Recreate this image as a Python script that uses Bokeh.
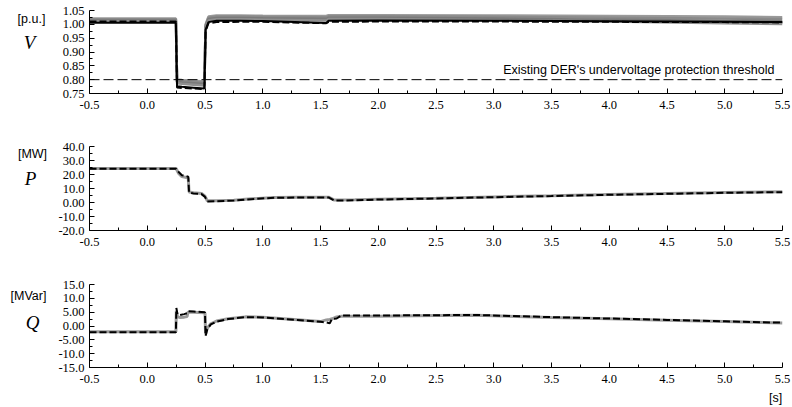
from bokeh.plotting import figure
from bokeh.layouts import column, row
from bokeh.models import FixedTicker, PrintfTickFormatter, CustomJSTickFormatter, Label, Range1d, Span
from bokeh.embed import file_html
from bokeh.resources import INLINE

# ---------------- data ----------------
X_TICKS = [-0.5, 0.0, 0.5, 1.0, 1.5, 2.0, 2.5, 3.0, 3.5, 4.0, 4.5, 5.0, 5.5]
X_MINOR = [-0.25, 0.25, 0.75, 1.25, 1.75, 2.25, 2.75, 3.25, 3.75, 4.25, 4.75, 5.25]

V_TICKS = [0.75, 0.80, 0.85, 0.90, 0.95, 1.00, 1.05]
V_MINOR = [0.775, 0.825, 0.875, 0.925, 0.975, 1.025]
P_TICKS = [-20.0, -10.0, 0.0, 10.0, 20.0, 30.0, 40.0]
P_MINOR = [-15.0, -5.0, 5.0, 15.0, 25.0, 35.0]
Q_TICKS = [-15.0, -10.0, -5.0, 0.0, 5.0, 10.0, 15.0]
Q_MINOR = [-12.5, -7.5, -2.5, 2.5, 7.5, 12.5]

V_THRESHOLD = 0.80

t_V = [-0.5, 0.248, 0.258, 0.30, 0.40, 0.495, 0.505, 0.53, 0.60, 0.80, 1.00, 1.55, 1.57, 2.00, 3.00, 4.00, 5.00, 5.50]
V_gray1 = [1.021, 1.021, 0.801, 0.799, 0.796, 0.793, 1.000, 1.028, 1.032, 1.032, 1.031, 1.030, 1.033, 1.033, 1.032, 1.030, 1.028, 1.026]
V_gray2 = [1.018, 1.018, 0.797, 0.795, 0.792, 0.789, 0.995, 1.024, 1.028, 1.028, 1.027, 1.026, 1.029, 1.029, 1.027, 1.024, 1.021, 1.019]
V_gray3 = [1.014, 1.014, 0.792, 0.790, 0.787, 0.784, 0.990, 1.019, 1.023, 1.023, 1.022, 1.020, 1.024, 1.024, 1.021, 1.017, 1.013, 1.011]
V_gray4 = [1.011, 1.011, 0.787, 0.785, 0.782, 0.779, 0.985, 1.014, 1.018, 1.018, 1.017, 1.014, 1.019, 1.019, 1.015, 1.010, 1.004, 1.001]
V_black = [1.006, 1.006, 0.776, 0.774, 0.771, 0.768, 0.980, 1.008, 1.013, 1.013, 1.012, 1.005, 1.013, 1.014, 1.013, 1.011, 1.009, 1.008]
V_dash = [1.010, 1.010, 0.772, 0.770, 0.768, 0.766, 0.975, 1.004, 1.008, 1.009, 1.009, 1.004, 1.009, 1.010, 1.010, 1.009, 1.008, 1.007]

t_P = [-0.5, 0.25, 0.27, 0.30, 0.33, 0.355, 0.362, 0.40, 0.47, 0.50, 0.52, 0.60, 0.75, 0.90, 1.10, 1.30, 1.57, 1.62, 1.80, 2.00, 2.50, 3.00, 3.50, 4.00, 4.50, 5.00, 5.50]
P_dash = [24.1, 24.1, 22.0, 19.5, 19.0, 18.5, 7.0, 6.5, 6.0, 4.0, 0.8, 0.9, 1.4, 2.4, 3.4, 3.5, 3.6, 1.4, 1.6, 2.1, 2.9, 3.8, 4.6, 5.5, 6.2, 6.9, 7.4]
P_gray = [24.3, 24.3, 21.0, 18.5, 18.0, 17.5, 7.5, 7.0, 6.5, 4.5, 1.2, 1.2, 1.6, 2.6, 3.6, 3.7, 3.8, 1.7, 1.9, 2.4, 3.1, 4.0, 4.8, 5.7, 6.4, 7.1, 7.6]

t_Q = [-0.5, 0.248, 0.252, 0.262, 0.28, 0.32, 0.345, 0.352, 0.40, 0.495, 0.500, 0.505, 0.52, 0.55, 0.60, 0.70, 0.85, 1.00, 1.30, 1.50, 1.55, 1.58, 1.60, 1.64, 1.68, 2.00, 2.50, 2.85, 3.50, 4.00, 4.50, 5.00, 5.50]
Q_dash = [-2.3, -2.3, 6.5, 4.2, 3.9, 4.3, 4.6, 5.3, 5.2, 5.0, 4.8, -3.6, -1.2, 0.6, 1.6, 2.5, 3.2, 3.1, 2.2, 1.5, 1.3, 1.0, 2.6, 2.7, 3.8, 3.8, 3.9, 4.0, 3.2, 2.7, 2.2, 1.7, 1.2]
Q_gray = [-2.1, -2.1, 5.5, 3.3, 3.1, 3.2, 3.4, 5.0, 5.0, 4.8, 4.6, -3.0, -0.8, 0.8, 1.8, 2.6, 3.3, 3.2, 2.3, 1.6, 2.2, 2.4, 2.6, 3.3, 3.5, 3.5, 3.8, 3.9, 3.1, 2.6, 2.1, 1.6, 1.1]

# ---------------- layout helpers ----------------
X0, X1 = -0.5, 5.5
STRIP_W = 50          # left strip holding unit / symbol labels
FRAME_LEFT, FRAME_RIGHT = 89, 782
SERIF = "Liberation Serif"
SANS = "Liberation Sans"


def make_fig(height, top, bottom, ymin, ymax, yticks, yminor, yfmt):
    p = figure(width=792 - STRIP_W, height=height, x_range=Range1d(X0, X1), y_range=Range1d(ymin, ymax),
               output_backend="svg", toolbar_location=None,
               min_border_left=FRAME_LEFT - STRIP_W, min_border_right=792 - FRAME_RIGHT,
               min_border_top=top, min_border_bottom=bottom)
    p.outline_line_color = None
    p.grid.visible = False
    p.background_fill_color = "white"
    p.border_fill_color = "white"
    xa = p.xaxis[0]
    xa.ticker = FixedTicker(ticks=X_TICKS, minor_ticks=X_MINOR)
    xa.formatter = PrintfTickFormatter(format="%.1f")
    xa.major_label_standoff = 7
    ya = p.yaxis[0]
    ya.ticker = FixedTicker(ticks=yticks, minor_ticks=yminor)
    ya.formatter = yfmt
    ya.major_label_standoff = 5
    for ax in (xa, ya):
        ax.major_tick_in = 5
        ax.major_tick_out = 0
        ax.minor_tick_in = 3
        ax.minor_tick_out = 0
        ax.axis_line_color = "black"
        ax.major_tick_line_color = "black"
        ax.minor_tick_line_color = "black"
        ax.major_label_text_font = SERIF
        ax.major_label_text_font_size = "12.5px"
        ax.major_label_text_color = "black"
    return p


def strip(width, height, items):
    """A blank figure whose data units are pixels (origin top-left) for side texts."""
    s = figure(width=width, height=height, x_range=Range1d(0, width), y_range=Range1d(height, 0),
               x_axis_location=None, y_axis_location=None, output_backend="svg",
               toolbar_location=None, min_border=0)
    s.outline_line_color = None
    s.grid.visible = False
    s.border_fill_color = "white"
    s.background_fill_color = "white"
    for (txt, x, y, font, style, size) in items:
        s.add_layout(Label(x=x, y=y, text=txt, text_font=font, text_font_style=style,
                           text_font_size=size, text_align="center", text_baseline="middle",
                           text_color="black"))
    return s


DASH = "7 3"

# ---------------- V panel ----------------
pV = make_fig(136, 10, 43, 0.75, 1.05, V_TICKS, V_MINOR, PrintfTickFormatter(format="%.2f"))
for ys, col in ((V_gray1, "#9a9a9a"), (V_gray2, "#8a8a8a"), (V_gray3, "#7a7a7a"), (V_gray4, "#8f8f8f")):
    pV.line(t_V, ys, line_color=col, line_width=2.5)
pV.line(t_V, V_black, line_color="black", line_width=2)
pV.line(t_V, V_dash, line_color="black", line_width=2, line_dash=DASH)
pV.add_layout(Span(location=V_THRESHOLD, dimension="width", line_color="black", line_width=1, line_dash="10 4"))
pV.add_layout(Label(x=5.43, y=V_THRESHOLD, y_offset=3, text="Existing DER's undervoltage protection threshold",
                    text_font=SANS, text_font_size="12.5px", text_align="right", text_baseline="bottom",
                    text_color="black"))
sV = strip(STRIP_W, 136, [("[p.u.]", 31, 14, SANS, "normal", "12.5px"),
                          ("V", 29, 52, SERIF, "italic", "19px")])

# ---------------- P panel ----------------
pP = make_fig(136, 10, 42, -20.0, 40.0, P_TICKS, P_MINOR,
              CustomJSTickFormatter(code="return tick.toPrecision(3);"))
pP.line(t_P, P_gray, line_color="#9a9a9a", line_width=3)
pP.line(t_P, P_dash, line_color="black", line_width=2, line_dash=DASH)
sP = strip(STRIP_W, 136, [("[MW]", 32, 12, SANS, "normal", "12.5px"),
                          ("P", 30, 52, SERIF, "italic", "19px")])

# ---------------- Q panel ----------------
pQ = make_fig(117, 12, 22, -15.0, 15.0, Q_TICKS, Q_MINOR,
              CustomJSTickFormatter(code="return tick.toPrecision(3);"))
pQ.line(t_Q, Q_gray, line_color="#9a9a9a", line_width=3)
pQ.line(t_Q, Q_dash, line_color="black", line_width=2, line_dash=DASH)
sQ = strip(STRIP_W, 117, [("[MVar]", 28, 16, SANS, "normal", "12.5px"),
                          ("Q", 32, 53, SERIF, "italic", "19px")])

sBottom = strip(792, 18, [("[s]", 775, 8, SANS, "normal", "12.5px")])

layout = column(row(sV, pV, spacing=0), row(sP, pP, spacing=0), row(sQ, pQ, spacing=0), sBottom, spacing=0)
open("out.html", "w").write(file_html(layout, INLINE))
